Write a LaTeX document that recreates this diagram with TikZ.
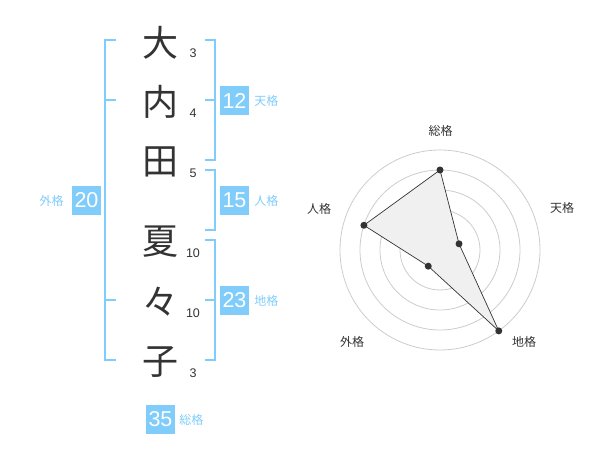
\documentclass[tikz,border=0pt]{standalone}
\usepackage{fontspec}
\setmainfont{Liberation Sans}
\newfontfamily\jp{Noto Sans CJK JP}
\usetikzlibrary{positioning, calc}

\definecolor{kakublue}{RGB}{128,204,250}
\definecolor{inkgray}{RGB}{51,51,51}
\definecolor{ringgray}{RGB}{204,204,204}

\tikzset{
  kanji/.style={text=inkgray, font=\jp\fontsize{36}{36}\selectfont, inner sep=0pt},
  strokes/.style={text=inkgray, font=\fontsize{12.5}{12.5}\selectfont, inner sep=0pt},
  bracket/.style={draw=kakublue, line width=2pt},
  scorebox/.style={fill=kakublue, text=white, minimum size=29pt, inner sep=0pt, font=\fontsize{21.5}{21.5}\selectfont},
  scorename/.style={text=kakublue, font=\jp\fontsize{12}{12}\selectfont, inner sep=0pt},
  axisname/.style={text=inkgray, font=\jp\fontsize{12}{12}\selectfont, inner sep=0pt},
  ring/.style={draw=ringgray, line width=0.8pt},
  mark dot/.style={fill=inkgray, circle, inner sep=0pt, minimum size=7pt}
}

\begin{document}
\begin{tikzpicture}[x=1pt, y=-1pt]
		\useasboundingbox (0,0) rectangle (600,470);
		
		% name and stroke counts
		\node[kanji] (c1) at (160,43) {大};
		\node[kanji] (c2) at (160,102) {内};
		\node[kanji] (c3) at (160,162) {田};
		\node[kanji] (c4) at (160,242) {夏};
		\node[kanji] (c5) at (160,302) {々};
		\node[kanji] (c6) at (160,362) {子};
		\node[strokes] (s1) at (193,53) {3};
		\node[strokes] (s2) at (193,113) {4};
		\node[strokes] (s3) at (193,173) {5};
		\node[strokes] (s4) at (193,253) {10};
		\node[strokes] (s5) at (193,313) {10};
		\node[strokes] (s6) at (193,373) {3};
		
		% brackets
		\draw[bracket] (116,40) -- (105,40) -- (105,360) -- (116,360);
		\draw[bracket] (105,100) -- (116,100);
		\draw[bracket] (105,300) -- (116,300);
		\draw[bracket] (205,40) -- (215,40) -- (215,160) -- (205,160);
		\draw[bracket] (205,100) -- (215,100);
		\draw[bracket] (205,170) -- (215,170) -- (215,230) -- (205,230);
		\draw[bracket] (205,240) -- (215,240) -- (215,360) -- (205,360);
		\draw[bracket] (205,300) -- (215,300);
		
		% scores
		\node[scorebox] (ten) at (234.5,100.5) {12};
		\node[scorename, right=5pt of ten] (tenname) {天格};
		\node[scorebox] (jin) at (234.5,200.5) {15};
		\node[scorename, right=5pt of jin] (jinname) {人格};
		\node[scorebox] (chi) at (234.5,300.5) {23};
		\node[scorename, right=5pt of chi] (chiname) {地格};
		\node[scorebox] (gai) at (86.5,200.5) {20};
		\node[scorename, left=8pt of gai] (gainame) {外格};
		\node[scorebox] (sou) at (160.5,419.5) {35};
		\node[scorename, right=4pt of sou] (souname) {総格};
		
		% radar chart
		\coordinate (O) at (440,250);
		\foreach \r in {20,40,60,80,100}
			\draw[ring] (O) circle (\r);
		\fill[ringgray] (O) circle (3);
		
		\coordinate (Psou) at ($(O)+(90:-80)$);
		\coordinate (Pten) at ($(O)+(-18:20)$);
		\coordinate (Pchi) at ($(O)+(54:100)$);
		\coordinate (Pgai) at ($(O)+(126:20)$);
		\coordinate (Pjin) at ($(O)+(198:80)$);
		
		\draw[inkgray, fill=black!6, line width=0.7pt] (Psou) -- (Pten) -- (Pchi) -- (Pgai) -- (Pjin) -- cycle;
		\foreach \p in {Psou,Pten,Pchi,Pgai,Pjin}
			\node[mark dot] at (\p) {};
		
		\node[axisname] (asou) at (440.5,130.5) {総格};
		\node[axisname] (aten) at (562,208) {天格};
		\node[axisname] (ajin) at (319,209) {人格};
		\node[axisname] (agai) at (352,342) {外格};
		\node[axisname] (achi) at (524,342) {地格};
	\end{tikzpicture}
\end{document}
